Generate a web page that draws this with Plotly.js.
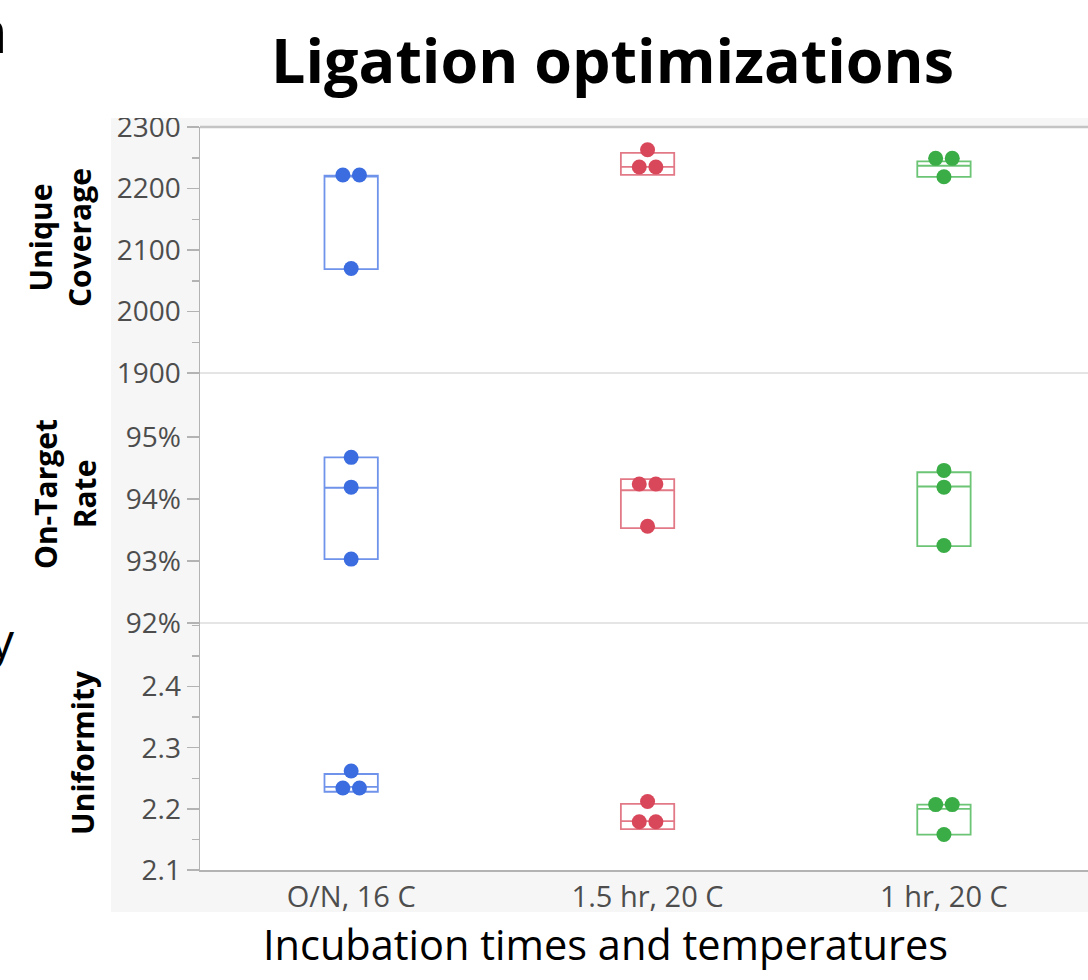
<!DOCTYPE html>
<html>
<head>
<meta charset="utf-8">
<script src="https://cdn.plot.ly/plotly-3.0.1.min.js"></script>
<style>html,body{margin:0;padding:0;background:#fff;}#chart{width:1088px;height:980px;}</style>
</head>
<body>
<div id="chart"></div>
<script>
// ---- data ----
const categories = ['O/N, 16 C', '1.5 hr, 20 C', '1 hr, 20 C'];
const groupColors = ['#3b6de0', '#d9475a', '#3aad47'];
const boxColors = ['#6f93ea', '#e27987', '#6cc475'];

// Unique Coverage
const coveragePoints = [[2222, 2222, 2070], [2263, 2235, 2235], [2249, 2249, 2219]];
const coverageQ1 = [2069, 2222, 2219];
const coverageMedian = [2221, 2235, 2237];
const coverageQ3 = [2221, 2258, 2244];
const coverageTicks = [1900, 2000, 2100, 2200, 2300];

// On-Target Rate (%)
const onTargetPoints = [[94.67, 94.19, 93.03], [94.24, 94.24, 93.56], [94.46, 94.19, 93.25]];
const onTargetQ1 = [93.03, 93.53, 93.24];
const onTargetMedian = [94.18, 94.14, 94.2];
const onTargetQ3 = [94.67, 94.32, 94.43];
const onTargetTicks = [92, 93, 94, 95];

// Uniformity
const uniformityPoints = [[2.262, 2.234, 2.234], [2.212, 2.179, 2.179], [2.207, 2.207, 2.158]];
const uniformityQ1 = [2.228, 2.167, 2.158];
const uniformityMedian = [2.236, 2.18, 2.2];
const uniformityQ3 = [2.257, 2.208, 2.207];
const uniformityTicks = [2.1, 2.2, 2.3, 2.4];

// ---- layout helpers (pixel geometry of the frame) ----
const W = 1088, H = 980;
const L = 200, T = 127, B = 870;
const PW = W - L, PH = B - T;
const px = x => (x - L) / PW;
const py = y => (B - y) / PH;

const spread = 0.028; // side-by-side offset for tied values

function pointX(vals, idx) {
  const xs = [];
  vals.forEach((v, k) => {
    const ties = vals.filter(u => u === v).length;
    const rank = vals.slice(0, k).filter(u => u === v).length;
    xs.push(idx + (rank - (ties - 1) / 2) * 2 * spread);
  });
  return xs;
}

const traces = [];
function addPanel(points, q1, med, q3, yax) {
  categories.forEach((c, i) => {
    traces.push({
      type: 'box', x: [i], q1: [q1[i]], median: [med[i]], q3: [q3[i]],
      lowerfence: [q1[i]], upperfence: [q3[i]],
      width: 0.18, boxpoints: false,
      line: {color: boxColors[i], width: 1.8},
      fillcolor: 'rgba(0,0,0,0)',
      xaxis: 'x', yaxis: yax, hoverinfo: 'skip', showlegend: false
    });
    traces.push({
      type: 'scatter', mode: 'markers',
      x: pointX(points[i], i), y: points[i],
      marker: {color: groupColors[i], size: 15},
      xaxis: 'x', yaxis: yax, showlegend: false, name: c
    });
  });
}
addPanel(uniformityPoints, uniformityQ1, uniformityMedian, uniformityQ3, 'y');
addPanel(onTargetPoints, onTargetQ1, onTargetMedian, onTargetQ3, 'y2');
addPanel(coveragePoints, coverageQ1, coverageMedian, coverageQ3, 'y3');

const tickFont = {family: 'Open Sans', size: 28, color: '#4d4d4d'};
const axisGray = '#b3b3b3';
const yBase = {
  showline: true, linecolor: axisGray, linewidth: 1.5,
  ticks: 'outside', ticklen: 12, tickcolor: axisGray, tickwidth: 1.5,
  showgrid: false, zeroline: false, tickfont: tickFont, tickmode: 'array',
  fixedrange: true
};

const layout = {
  width: W, height: H,
  margin: {l: L, r: 0, t: T, b: H - B, pad: 0},
  paper_bgcolor: '#ffffff', plot_bgcolor: 'rgba(0,0,0,0)',
  showlegend: false,
  xaxis: {
    range: [-0.51, 2.486], tickmode: 'array', tickvals: [0, 1, 2], ticktext: categories,
    showline: true, linecolor: axisGray, linewidth: 2, ticks: '', showgrid: false,
    zeroline: false, tickfont: {family: 'Open Sans', size: 29, color: '#4d4d4d'},
    anchor: 'y', fixedrange: true
  },
  yaxis: Object.assign({}, yBase, {
    domain: [0, py(623)], range: [2.1, 2.504], tickvals: uniformityTicks,
    ticktext: uniformityTicks.map(v => v.toFixed(1)),
    minor: {ticks: 'outside', ticklen: 7, dtick: 0.05, tick0: 2.1, tickcolor: axisGray, tickwidth: 1.5, showgrid: false}
  }),
  yaxis2: Object.assign({}, yBase, {
    domain: [py(623), py(373)], range: [92, 96.03], tickvals: onTargetTicks,
    ticktext: onTargetTicks.map(v => v + '%')
  }),
  yaxis3: Object.assign({}, yBase, {
    domain: [py(373), 1], range: [1900, 2300], tickvals: coverageTicks,
    ticktext: coverageTicks.map(String),
    minor: {ticks: 'outside', ticklen: 7, dtick: 50, tick0: 1900, tickcolor: axisGray, tickwidth: 1.5, showgrid: false}
  }),
  shapes: [
    {type: 'rect', xref: 'paper', yref: 'paper', x0: px(111), x1: px(1088), y0: py(912), y1: py(118),
     fillcolor: '#f6f6f6', line: {width: 0}, layer: 'below'},
    {type: 'rect', xref: 'paper', yref: 'paper', x0: 0, x1: 1, y0: 0, y1: 1,
     fillcolor: '#ffffff', line: {width: 0}, layer: 'below'},
    {type: 'line', xref: 'paper', yref: 'paper', x0: 0, x1: 1, y0: py(373), y1: py(373),
     line: {color: '#dcdcdc', width: 1.5}},
    {type: 'line', xref: 'paper', yref: 'paper', x0: 0, x1: 1, y0: py(623), y1: py(623),
     line: {color: '#dcdcdc', width: 1.5}},
    {type: 'line', xref: 'paper', yref: 'paper', x0: 0, x1: 1, y0: 1, y1: 1,
     line: {color: '#c4c4c4', width: 2.5}},
    {type: 'rect', xref: 'paper', yref: 'paper', x0: px(100), x1: px(1088), y0: py(118), y1: py(100),
     fillcolor: '#ffffff', line: {width: 0}, layer: 'above'}
  ],
  annotations: [
    {text: '<b>Ligation optimizations</b>', xref: 'paper', yref: 'paper', x: px(612), y: py(60),
     xanchor: 'center', yanchor: 'middle', showarrow: false,
     font: {family: 'Open Sans', size: 61, color: '#000000'}},
    {text: 'Incubation times and temperatures', xref: 'paper', yref: 'paper', x: px(605), y: py(944),
     xanchor: 'center', yanchor: 'middle', showarrow: false,
     font: {family: 'Open Sans', size: 41.5, color: '#000000'}},
    {text: '<b>Unique<br>Coverage</b>', xref: 'paper', yref: 'paper', x: px(60), y: py(238),
     xanchor: 'center', yanchor: 'middle', showarrow: false, textangle: -90,
     font: {family: 'Open Sans', size: 30, color: '#000000'}},
    {text: '<b>On-Target<br>Rate</b>', xref: 'paper', yref: 'paper', x: px(65), y: py(494),
     xanchor: 'center', yanchor: 'middle', showarrow: false, textangle: -90,
     font: {family: 'Open Sans', size: 30, color: '#000000'}},
    {text: '<b>Uniformity</b>', xref: 'paper', yref: 'paper', x: px(82), y: py(753),
     xanchor: 'center', yanchor: 'middle', showarrow: false, textangle: -90,
     font: {family: 'Open Sans', size: 30, color: '#000000'}},
    {text: 'n', xref: 'paper', yref: 'paper', x: px(10), y: py(30),
     xanchor: 'right', yanchor: 'middle', showarrow: false,
     font: {family: 'Open Sans', size: 60, color: '#000000'}},
    {text: 'y', xref: 'paper', yref: 'paper', x: px(17), y: py(640),
     xanchor: 'right', yanchor: 'middle', showarrow: false,
     font: {family: 'Open Sans', size: 48, color: '#000000'}}
  ]
};

Plotly.newPlot('chart', traces, layout, {displayModeBar: false, staticPlot: true});
</script>
</body>
</html>
